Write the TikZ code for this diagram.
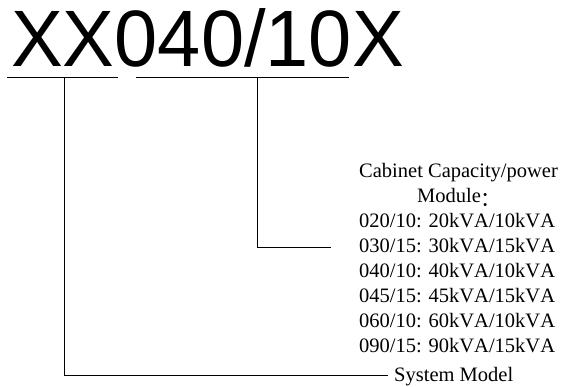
\documentclass[tikz,border=0pt]{standalone}
\usepackage{fontspec}
\setmainfont{Liberation Serif}[Kerning=Off]
\newfontfamily\bigsans{Liberation Sans}
\newfontfamily\cjkfont{Noto Sans CJK SC}
\begin{document}
\begin{tikzpicture}[x=1pt,y=-1pt,
  line/.style={draw=black,line width=0.9pt},
  lbl/.style={inner sep=0pt,anchor=base west,font=\fontsize{20.5}{24}\selectfont},
  bigtxt/.style={inner sep=0pt,anchor=base west,xscale=0.97,font=\bigsans\fontsize{80}{90}\selectfont}]
\useasboundingbox (0,0) rectangle (563,387);
\node[bigtxt] (code) at (11,66.5) {XX040/10X};
\coordinate (u1a) at (7,77);
\coordinate (u1b) at (118,77);
\coordinate (u2a) at (136,77);
\coordinate (u2b) at (349,77);
\draw[line] (u1a) -- (u1b);
\draw[line] (u2a) -- (u2b);
\node[lbl] (t1) at (359,178) {Cabinet Capacity/power};
\node[lbl] (t2) at (417,203) {Module{\cjkfont\raisebox{-0.18em}{：}}};
\node[lbl] (t3) at (359,228) {020/10: 20kVA/10kVA};
\node[lbl] (t4) at (359,253) {030/15: 30kVA/15kVA};
\node[lbl] (t5) at (359,278) {040/10: 40kVA/10kVA};
\node[lbl] (t6) at (359,303) {045/15: 45kVA/15kVA};
\node[lbl] (t7) at (359,328) {060/10: 60kVA/10kVA};
\node[lbl] (t8) at (359,353) {090/15: 90kVA/15kVA};
\node[lbl] (sm) at (394,382) {System Model};
\coordinate (c1) at (257,77);
\coordinate (c1b) at (257,247);
\coordinate (c1e) at (331,247);
\draw[line] (c1) -- (c1b) -- (c1e);
\coordinate (m1) at (64,77);
\coordinate (m1b) at (64,375);
\coordinate (m1e) at (388,375);
\draw[line] (m1) -- (m1b) -- (m1e);
\end{tikzpicture}
\end{document}
